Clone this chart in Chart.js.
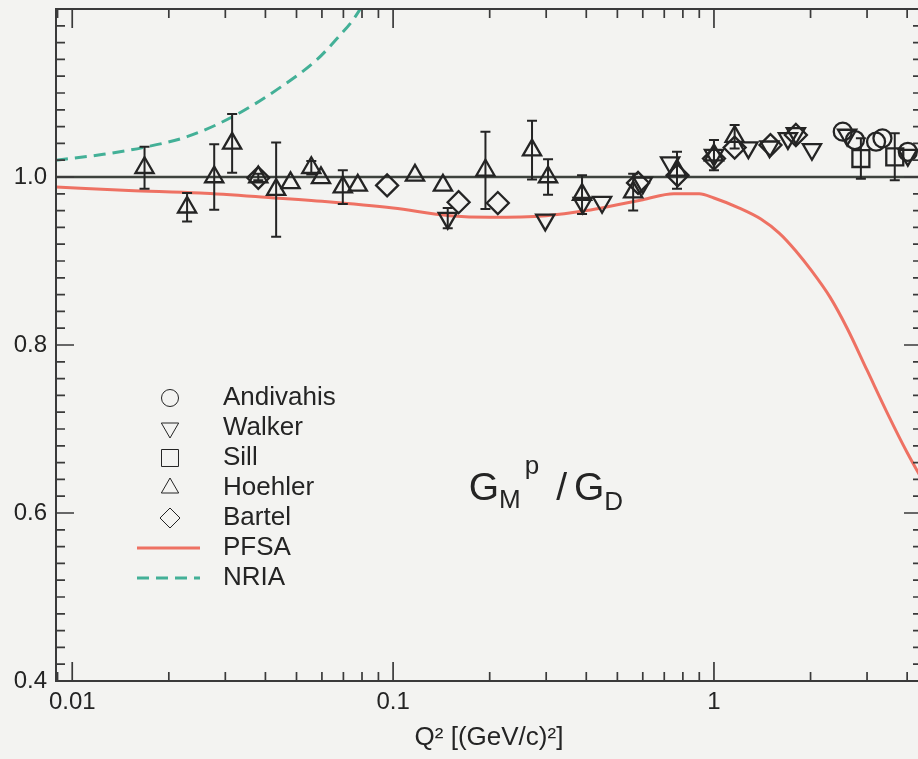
<!DOCTYPE html>
<html>
<head>
<meta charset="utf-8">
<title>GMp / GD</title>
<script src="https://cdn.jsdelivr.net/npm/chart.js@4.4.1/dist/chart.umd.min.js"></script>
<style>
  html, body { margin: 0; padding: 0; width: 918px; height: 759px; background: #f3f3f1; overflow: hidden; }
  /* canvas is a few px wider than the page so the right frame sits just off screen */
  #wrap { width: 918px; height: 759px; overflow: hidden; }
  canvas { display: block; }
</style>
</head>
<body>
<div id="wrap"><canvas id="ffChart" width="926" height="759"></canvas></div>
<script>
// axis range and ticks
const xMin = 0.0089;
const xMax = 4.45;
const xTickValues = [0.01, 0.1, 1];
const xTickLabels = ['0.01', '0.1', '1'];
const yMin = 0.4;
const yMax = 1.2;
const yTickValues = [0.4, 0.6, 0.8, 1.0];
const yTickLabels = ['0.4', '0.6', '0.8', '1.0'];

// Andivahis (circles)
const andivahisQ2 = [2.52, 2.75, 3.2, 3.35, 4.02];
const andivahisVal = [1.054, 1.044, 1.042, 1.046, 1.03];
const andivahisErr = [0, 0, 0, 0, 0];

// Walker (down triangles)
const walkerQ2 = [0.148, 0.298, 0.39, 0.448, 0.6, 0.73, 1.0, 1.28, 1.49, 1.7, 1.8, 2.02, 2.6, 4.02];
const walkerVal = [0.951, 0.949, 0.969, 0.970, 0.993, 1.017, 1.026, 1.035, 1.036, 1.046, 1.052, 1.033, 1.05, 1.026];
const walkerErr = [0.012, 0, 0, 0, 0, 0, 0, 0, 0, 0, 0, 0, 0, 0];

// Sill (squares)
const sillQ2 = [2.87, 3.66];
const sillVal = [1.022, 1.024];
const sillErr = [0.024, 0.028];

// Hoehler (triangles)
const hoehlerQ2 = [0.0168, 0.0228, 0.0277, 0.0315, 0.038, 0.0432, 0.0479, 0.0556, 0.0596, 0.0697, 0.0776,
  0.117, 0.143, 0.194, 0.271, 0.304, 0.388, 0.56, 0.767, 1.0, 1.16];
const hoehlerVal = [1.011, 0.964, 1.0, 1.04, 1.0, 0.985, 0.993, 1.011, 0.999, 0.988, 0.99,
  1.002, 0.99, 1.008, 1.032, 1.0, 0.979, 0.982, 1.008, 1.026, 1.048];
const hoehlerErr = [0.025, 0.017, 0.039, 0.035, 0.004, 0.056, 0, 0.008, 0, 0.02, 0,
  0, 0, 0.046, 0.035, 0.021, 0.023, 0.022, 0.022, 0.018, 0.014];

// Bartel (diamonds)
const bartelQ2 = [0.038, 0.0958, 0.16, 0.212, 0.58, 0.77, 1.0, 1.16, 1.5, 1.8];
const bartelVal = [0.999, 0.990, 0.970, 0.969, 0.993, 1.002, 1.022, 1.035, 1.038, 1.05];
const bartelErr = [0, 0, 0, 0, 0, 0, 0, 0, 0, 0];

// PFSA curve
const pfsaQ2 = [0.0089, 0.015, 0.025, 0.04, 0.06, 0.1, 0.15, 0.2, 0.3, 0.4, 0.5, 0.6, 0.75, 0.9, 1.0,
  1.2, 1.4, 1.6, 1.8, 2.0, 2.3, 2.6, 3.0, 3.5, 4.0, 4.45];
const pfsaVal = [0.988, 0.984, 0.981, 0.976, 0.971, 0.963, 0.954, 0.952, 0.954, 0.960, 0.967, 0.973, 0.980, 0.980, 0.975,
  0.963, 0.950, 0.933, 0.912, 0.890, 0.857, 0.820, 0.770, 0.716, 0.672, 0.640];

// NRIA curve
const nriaQ2 = [0.0089, 0.0125, 0.0166, 0.0228, 0.0317, 0.045, 0.058, 0.068, 0.075, 0.082];
const nriaVal = [1.020, 1.027, 1.035, 1.048, 1.072, 1.108, 1.14, 1.168, 1.187, 1.21];

const ink = '#242424';
const frameColor = '#3a3a3a';
const pfsaColor = '#ee7163';
const nriaColor = '#43b097';
const fontName = '"Liberation Sans", Arial, Helvetica, sans-serif';

function toPoints(xs, ys) {
  return xs.map((q, i) => ({ x: q, y: ys[i] }));
}

function markerSet(label, xs, ys, errs, style, radius, rotation) {
  return {
    label: label,
    type: 'scatter',
    data: toPoints(xs, ys),
    errors: errs,
    pointStyle: style,
    pointRadius: radius,
    pointRotation: rotation,
    pointBorderWidth: 2.3,
    pointBorderColor: ink,
    pointBackgroundColor: 'rgba(0,0,0,0)',
    borderColor: ink,
    showLine: false,
    order: 1
  };
}

// frame, inward ticks and the line at 1.0
const framePlugin = {
  id: 'frame',
  beforeDatasetsDraw(chart) {
    const { ctx, chartArea: a, scales: { y } } = chart;
    const py = y.getPixelForValue(1.0);
    ctx.save();
    ctx.strokeStyle = '#3d423d';
    ctx.lineWidth = 2.5;
    ctx.beginPath();
    ctx.moveTo(a.left, py);
    ctx.lineTo(a.right, py);
    ctx.stroke();
    ctx.restore();
  },
  afterDraw(chart) {
    const { ctx, chartArea: a, scales: { x, y } } = chart;
    ctx.save();
    ctx.strokeStyle = frameColor;
    ctx.lineWidth = 2;
    ctx.strokeRect(a.left, a.top, a.right - a.left, a.bottom - a.top);

    ctx.lineWidth = 1.7;
    ctx.beginPath();
    for (let d = -3; d <= 1; d++) {
      for (let m = 1; m <= 9; m++) {
        const v = m * Math.pow(10, d);
        if (v < xMin || v > xMax) continue;
        const px = x.getPixelForValue(v);
        const len = m === 1 ? 19 : 9;
        ctx.moveTo(px, a.bottom);
        ctx.lineTo(px, a.bottom - len);
        ctx.moveTo(px, a.top);
        ctx.lineTo(px, a.top + len);
      }
    }
    for (let i = 0; i <= 40; i++) {
      const v = yMin + i * 0.02;
      const py = y.getPixelForValue(v);
      const len = i % 10 === 0 ? 18 : 9;
      ctx.moveTo(a.left, py);
      ctx.lineTo(a.left + len, py);
      ctx.moveTo(a.right, py);
      ctx.lineTo(a.right - len, py);
    }
    ctx.stroke();
    ctx.restore();
  }
};

// vertical error bars with caps
const errorBarPlugin = {
  id: 'errorBars',
  afterDatasetsDraw(chart) {
    const { ctx, scales: { x, y } } = chart;
    ctx.save();
    ctx.strokeStyle = ink;
    ctx.lineWidth = 2;
    chart.data.datasets.forEach(ds => {
      if (!ds.errors) return;
      ds.data.forEach((p, i) => {
        const e = ds.errors[i];
        if (!e) return;
        const px = x.getPixelForValue(p.x);
        const top = y.getPixelForValue(p.y + e);
        const bot = y.getPixelForValue(p.y - e);
        ctx.beginPath();
        ctx.moveTo(px, top);
        ctx.lineTo(px, bot);
        ctx.moveTo(px - 5, top);
        ctx.lineTo(px + 5, top);
        ctx.moveTo(px - 5, bot);
        ctx.lineTo(px + 5, bot);
        ctx.stroke();
      });
    });
    ctx.restore();
  }
};

// legend inside the plot and the G_M^p / G_D label
const insidePlugin = {
  id: 'inside',
  afterDraw(chart) {
    const { ctx, chartArea: a, scales: { x, y } } = chart;
    ctx.save();
    const symX = a.left + 114;
    const textX = a.left + 167;
    let rowY = a.top + 389;
    ctx.font = '26px ' + fontName;
    ctx.textBaseline = 'middle';
    ctx.textAlign = 'left';
    chart.data.datasets.forEach(ds => {
      ctx.strokeStyle = ink;
      ctx.fillStyle = 'rgba(0,0,0,0)';
      if (ds.showLine === false) {
        const r = ds.pointStyle === 'circle' ? 8.5 : ds.pointStyle === 'rect' ? 12 : 10;
        Chart.helpers.drawPoint(ctx, {
          pointStyle: ds.pointStyle,
          radius: r,
          rotation: ds.pointRotation || 0,
          borderWidth: 2.2
        }, symX, rowY);
      } else {
        ctx.strokeStyle = ds.borderColor;
        ctx.lineWidth = 3;
        ctx.setLineDash(ds.borderDash || []);
        ctx.beginPath();
        ctx.moveTo(a.left + 81, rowY);
        ctx.lineTo(a.left + 144, rowY);
        ctx.stroke();
        ctx.setLineDash([]);
      }
      ctx.fillStyle = ink;
      ctx.fillText(ds.label, textX, rowY);
      rowY += 30;
    });

    // G_M^p / G_D
    const gx = x.getPixelForValue(0.172);
    const gy = y.getPixelForValue(0.615);
    ctx.textBaseline = 'alphabetic';
    ctx.font = '39px ' + fontName;
    ctx.fillText('G', gx, gy);
    let cx = gx + ctx.measureText('G').width;
    ctx.font = '26px ' + fontName;
    ctx.fillText('M', cx, gy + 8);
    cx += ctx.measureText('M').width + 4;
    ctx.fillText('p', cx, gy - 26);
    cx += ctx.measureText('p').width + 17;
    ctx.font = '39px ' + fontName;
    ctx.fillText('/', cx, gy);
    cx += ctx.measureText('/').width + 7;
    ctx.fillText('G', cx, gy);
    cx += ctx.measureText('G').width;
    ctx.font = '26px ' + fontName;
    ctx.fillText('D', cx, gy + 10);
    ctx.restore();
  }
};

const datasets = [
  markerSet('Andivahis', andivahisQ2, andivahisVal, andivahisErr, 'circle', 9, 0),
  markerSet('Walker', walkerQ2, walkerVal, walkerErr, 'triangle', 10.5, 180),
  markerSet('Sill', sillQ2, sillVal, sillErr, 'rect', 12, 0),
  markerSet('Hoehler', hoehlerQ2, hoehlerVal, hoehlerErr, 'triangle', 10.5, 0),
  markerSet('Bartel', bartelQ2, bartelVal, bartelErr, 'rectRot', 11, 0),
  {
    label: 'PFSA',
    type: 'line',
    data: toPoints(pfsaQ2, pfsaVal),
    borderColor: pfsaColor,
    borderWidth: 3,
    pointRadius: 0,
    cubicInterpolationMode: 'monotone',
    fill: false,
    order: 2
  },
  {
    label: 'NRIA',
    type: 'line',
    data: toPoints(nriaQ2, nriaVal),
    borderColor: nriaColor,
    borderWidth: 3,
    borderDash: [12, 7],
    pointRadius: 0,
    cubicInterpolationMode: 'monotone',
    fill: false,
    order: 2
  }
];

const ctx = document.getElementById('ffChart').getContext('2d');
new Chart(ctx, {
  type: 'scatter',
  data: { datasets: datasets },
  options: {
    responsive: false,
    animation: false,
    layout: { autoPadding: false, padding: { top: 9, right: 4, left: 0, bottom: 0 } },
    plugins: {
      legend: { display: false },
      tooltip: { enabled: false }
    },
    scales: {
      x: {
        type: 'logarithmic',
        min: xMin,
        max: xMax,
        grid: { display: false, drawTicks: false },
        border: { display: false },
        afterBuildTicks: scale => {
          scale.ticks = xTickValues.map(v => ({ value: v }));
        },
        afterFit: scale => {
          scale.height = 78;
          scale.paddingLeft = 0;
          scale.paddingRight = 0;
        },
        ticks: {
          autoSkip: false,
          maxRotation: 0,
          padding: 7,
          color: ink,
          font: { family: fontName, size: 24 },
          callback: value => {
            const i = xTickValues.findIndex(v => Math.abs(v - value) < 1e-9);
            return i >= 0 ? xTickLabels[i] : '';
          }
        },
        title: {
          display: true,
          text: 'Q² [(GeV/c)²]',
          color: ink,
          font: { family: fontName, size: 26 },
          padding: { top: 0, bottom: 6 }
        }
      },
      y: {
        min: yMin,
        max: yMax,
        grid: { display: false, drawTicks: false },
        border: { display: false },
        afterBuildTicks: scale => {
          scale.ticks = yTickValues.map(v => ({ value: v }));
        },
        afterFit: scale => {
          scale.width = 56;
          scale.paddingTop = 0;
          scale.paddingBottom = 0;
        },
        ticks: {
          padding: 9,
          color: ink,
          font: { family: fontName, size: 24 },
          callback: value => {
            const i = yTickValues.findIndex(v => Math.abs(v - value) < 1e-9);
            return i >= 0 ? yTickLabels[i] : '';
          }
        }
      }
    }
  },
  plugins: [framePlugin, errorBarPlugin, insidePlugin]
});
</script>
</body>
</html>
